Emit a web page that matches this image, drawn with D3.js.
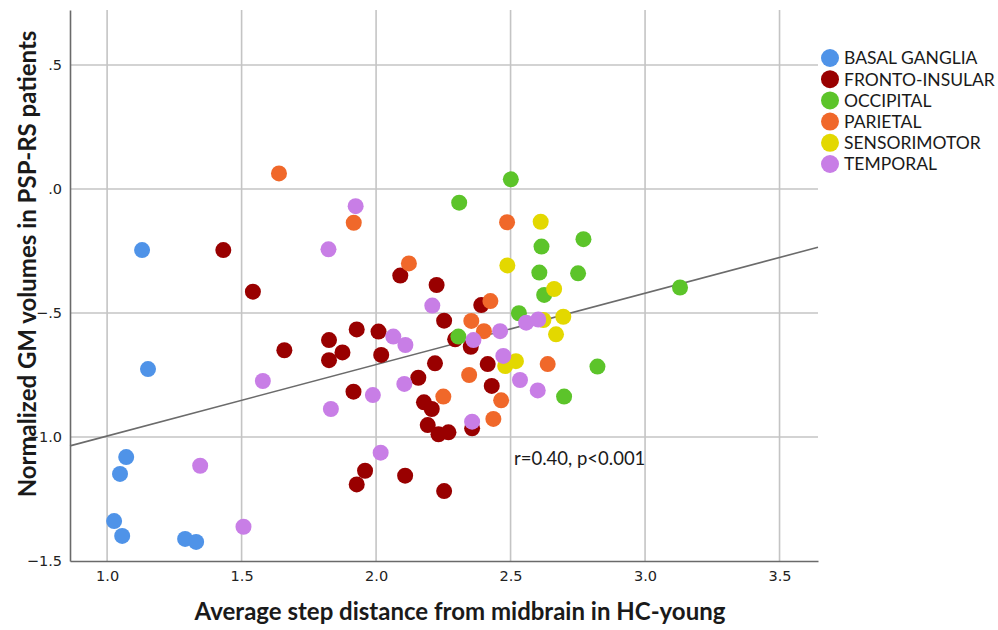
<!DOCTYPE html>
<html>
<head>
<meta charset="utf-8">
<script src="https://cdn.jsdelivr.net/npm/d3@7"></script>
<style>
	body { margin: 0; background: #fff; }
	svg { display: block; }
</style>
</head>
<body>
<div id="chart"></div>
<script>

//----------------------------
// Data
//----------------------------

var groups = ["BASAL GANGLIA", "FRONTO-INSULAR", "OCCIPITAL", "PARIETAL", "SENSORIMOTOR", "TEMPORAL"];
var groupColors = ["#4f93e8", "#990000", "#5cc42a", "#f0682a", "#e3d800", "#c87ee6"];

// [step distance, normalized GM volume]
var basalGanglia = [
	[1.130, -0.246], [1.152, -0.726], [1.071, -1.081], [1.048, -1.149],
	[1.026, -1.339], [1.056, -1.399], [1.290, -1.411], [1.331, -1.423]
];
var frontoInsular = [
	[1.432, -0.246], [1.542, -0.414], [1.659, -0.650], [2.090, -0.349],
	[2.225, -0.387], [2.391, -0.468], [2.253, -0.531], [1.928, -0.566],
	[2.009, -0.575], [1.825, -0.609], [1.875, -0.659], [1.825, -0.690],
	[2.019, -0.669], [2.294, -0.606], [2.352, -0.636], [2.219, -0.703],
	[2.157, -0.761], [1.916, -0.817], [2.415, -0.706], [2.430, -0.794],
	[2.178, -0.860], [2.207, -0.887], [2.192, -0.952], [2.232, -0.989],
	[2.269, -0.981], [2.357, -0.965], [1.959, -1.136], [1.928, -1.191],
	[2.108, -1.156], [2.253, -1.218]
];
var occipital = [
	[2.501, 0.039], [2.309, -0.055], [2.615, -0.232], [2.607, -0.337],
	[2.771, -0.202], [2.751, -0.340], [2.625, -0.427], [3.130, -0.397],
	[2.531, -0.501], [2.306, -0.595], [2.823, -0.716], [2.699, -0.837]
];
var parietal = [
	[1.639, 0.063], [1.917, -0.136], [2.487, -0.134], [2.122, -0.300],
	[2.425, -0.452], [2.354, -0.532], [2.401, -0.573], [2.638, -0.706],
	[2.346, -0.750], [2.465, -0.852], [2.436, -0.927], [2.250, -0.837]
];
var sensorimotor = [
	[2.612, -0.132], [2.488, -0.308], [2.662, -0.403], [2.696, -0.515],
	[2.622, -0.528], [2.669, -0.586], [2.520, -0.694], [2.480, -0.714]
];
var temporal = [
	[1.823, -0.243], [1.924, -0.069], [2.209, -0.470], [2.558, -0.539],
	[2.603, -0.526], [2.461, -0.573], [2.362, -0.609], [2.064, -0.595],
	[2.109, -0.629], [2.473, -0.673], [2.535, -0.770], [2.601, -0.812],
	[2.357, -0.938], [1.579, -0.774], [2.105, -0.786], [1.988, -0.831],
	[1.832, -0.887], [2.017, -1.063], [1.346, -1.116], [1.507, -1.362]
];
var groupData = [basalGanglia, frontoInsular, occipital, parietal, sensorimotor, temporal];

var xTicks = [1.0, 1.5, 2.0, 2.5, 3.0, 3.5];
var yTicks = [0.5, 0.0, -0.5, -1.0, -1.5];

// fit line, y = intercept + slope * x
var fitIntercept = -1.284,
	fitSlope = 0.288;
var statsLabel = "r=0.40, p<0.001";

var xTitle = "Average step distance from midbrain in HC-young",
	yTitle = "Normalized GM volumes in PSP-RS patients";

//----------------------------
// Layout
//----------------------------

var totwidth = 998,
	totheight = 630,
	plotLeft = 70,
	plotRight = 818,
	plotTop = 10,
	plotBottom = 561,
	xlim = [0.862, 3.643],
	ylim = [-1.5, 0.722],
	rpt = 8;

var svg = d3.select("#chart").append("svg")
	.attr("width", totwidth)
	.attr("height", totheight)
	.style("font-family", "Lato, 'Open Sans', sans-serif");

var x = d3.scaleLinear().domain(xlim).range([plotLeft, plotRight]);
var y = d3.scaleLinear().domain(ylim).range([plotBottom, plotTop]);

// Grid lines

svg.append("g").attr("class", "xgrid")
	.selectAll("line").data(xTicks).enter().append("line")
		.attr("x1", function(d) { return x(d); })
		.attr("x2", function(d) { return x(d); })
		.attr("y1", plotTop)
		.attr("y2", plotBottom)
		.attr("stroke", "#c4c4c4")
		.attr("stroke-width", 1.6);

svg.append("g").attr("class", "ygrid")
	.selectAll("line").data(yTicks.filter(function(d) { return d > ylim[0]; })).enter().append("line")
		.attr("x1", plotLeft)
		.attr("x2", plotRight)
		.attr("y1", function(d) { return y(d); })
		.attr("y2", function(d) { return y(d); })
		.attr("stroke", "#c4c4c4")
		.attr("stroke-width", 1.6);

// Axes (no tick marks, SPSS style labels)

var fmtY = function(d) {
	var s = d3.format(".1f")(Math.abs(d));
	if (Math.abs(d) < 1) s = s.replace(/^0/, "");
	return (d < 0 ? "\u2212" : "") + s;
};

var xAxis = d3.axisBottom(x).tickValues(xTicks).tickFormat(d3.format(".1f")).tickSize(0).tickPadding(10);
var yAxis = d3.axisLeft(y).tickValues(yTicks).tickFormat(fmtY).tickSize(0).tickPadding(8);

var gx = svg.append("g")
	.attr("transform", "translate(0," + plotBottom + ")")
	.call(xAxis);
var gy = svg.append("g")
	.attr("transform", "translate(" + plotLeft + ",0)")
	.call(yAxis);

[gx, gy].forEach(function(g) {
	g.select(".domain").attr("stroke", "#6a6a6a").attr("stroke-width", 1.6);
	g.selectAll("text")
		.attr("fill", "#222")
		.style("font-family", "'DejaVu Sans', sans-serif")
		.style("font-size", "14.5px");
});

// Axis titles

svg.append("text")
	.attr("x", 460)
	.attr("y", 620)
	.attr("text-anchor", "middle")
	.attr("font-weight", "bold")
	.attr("font-size", 24)
	.attr("fill", "#1a1a1a")
	.text(xTitle);

svg.append("text")
	.attr("transform", "translate(36,264) rotate(-90)")
	.attr("text-anchor", "middle")
	.attr("font-weight", "bold")
	.attr("font-size", 24)
	.attr("fill", "#1a1a1a")
	.text(yTitle);

// Fit line

svg.append("line")
	.attr("x1", x(xlim[0]))
	.attr("y1", y(fitIntercept + fitSlope * xlim[0]))
	.attr("x2", x(xlim[1]))
	.attr("y2", y(fitIntercept + fitSlope * xlim[1]))
	.attr("stroke", "#6b6b6b")
	.attr("stroke-width", 1.6);

// Points

groupData.forEach(function(pts, gi) {
	svg.append("g").attr("class", "grp" + gi)
		.selectAll("circle").data(pts).enter().append("circle")
			.attr("cx", function(d) { return x(d[0]); })
			.attr("cy", function(d) { return y(d[1]); })
			.attr("r", rpt)
			.attr("fill", groupColors[gi]);
});

// Stats annotation

svg.append("text")
	.attr("x", 514)
	.attr("y", 465)
	.attr("font-size", 18.5)
	.attr("fill", "#1a1a1a")
	.text(statsLabel);

// Legend

var legend = svg.append("g")
	.attr("transform", "translate(830,58)");

var item = legend.selectAll("g").data(groups).enter().append("g")
	.attr("transform", function(d, i) { return "translate(0," + (i * 21.2) + ")"; });

item.append("circle")
	.attr("r", 9)
	.attr("fill", function(d, i) { return groupColors[i]; });

item.append("text")
	.attr("x", 14)
	.attr("dy", "0.36em")
	.attr("font-size", 17.5)
	.attr("fill", "#1a1a1a")
	.text(function(d) { return d; });

</script>
</body>
</html>
